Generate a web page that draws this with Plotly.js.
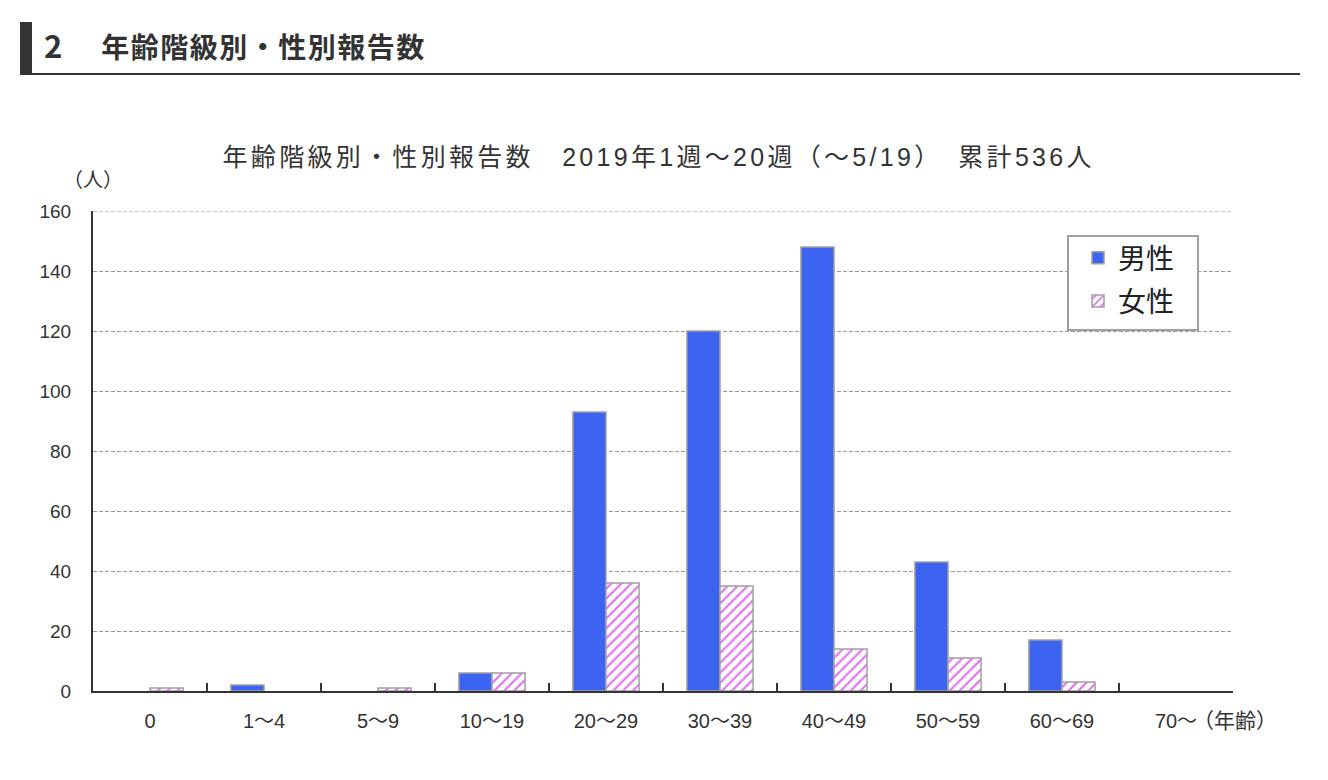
<!DOCTYPE html>
<html>
<head>
<meta charset="utf-8">
<script src="https://cdn.plot.ly/plotly-3.0.1.min.js"></script>
<style>
  html, body { margin: 0; padding: 0; background: #fff; }
  #wrap { position: relative; width: 1328px; height: 780px; overflow: hidden; }
  #chart { position: absolute; left: 0; top: 0; width: 1328px; height: 780px; }
  #hbar { position: absolute; left: 20px; top: 22px; width: 12px; height: 53px; background: #333; }
  #hline { position: absolute; left: 20px; top: 73px; width: 1280px; height: 2px; background: #333; }
  #htext { position: absolute; left: 44px; top: 27px; font-family: "Noto Sans CJK JP", "Liberation Sans", sans-serif; font-weight: bold; font-size: 28px; letter-spacing: 1.5px; color: #333; line-height: 36px; white-space: pre; }
  #htext .num { font-size: 31px; }
  .gtitle { letter-spacing: 3.3px; }
</style>
</head>
<body>
<div id="wrap">
  <div id="chart"></div>
  <div id="hbar"></div>
  <div id="hline"></div>
  <div id="htext"><span class="num">2</span>　 年齢階級別・性別報告数</div>
</div>
<script>
const categories = ["0", "1～4", "5～9", "10～19", "20～29", "30～39", "40～49", "50～59", "60～69", "70～"];
const male = [0, 2, 0, 6, 93, 120, 148, 43, 17, 0];
const female = [1, 0, 1, 6, 36, 35, 14, 11, 3, 0];
const seriesNames = ["男性", "女性"];
const yTicks = [0, 20, 40, 60, 80, 100, 120, 140, 160];
const chartTitle = "年齢階級別・性別報告数　2019年1週～20週（～5/19）　累計536人";

const FONT = '"Liberation Sans", "Noto Sans CJK JP", Arial, sans-serif';
// zero counts draw no bar (no outline) as in the original
const hideZero = arr => arr.map(v => (v === 0 ? null : v));

const traces = [
  {
    type: "bar", name: seriesNames[0], x: categories, y: hideZero(male),
    legendgroup: "m",
    marker: { color: "#3c64f0", line: { color: "#a0a0a0", width: 1.5 } },
    hoverinfo: "x+y+name"
  },
  {
    type: "bar", name: seriesNames[1], x: categories, y: hideZero(female),
    legendgroup: "f",
    marker: {
      color: "#ffffff",
      line: { color: "#a0a0a0", width: 1.5 },
      pattern: { shape: "/", fgcolor: "#e070f0", bgcolor: "#ffffff", size: 7, solidity: 0.3 }
    },
    hoverinfo: "x+y+name"
  }
];

const yMax = yTicks[yTicks.length - 1];

const layout = {
  width: 1328, height: 780,
  margin: { l: 93, r: 95, t: 211, b: 89 },
  paper_bgcolor: "#ffffff", plot_bgcolor: "#ffffff",
  font: { family: FONT, size: 19, color: "#333" },
  barmode: "group", bargap: 0.42, bargroupgap: 0,
  showlegend: true,
  title: {
    text: chartTitle,
    font: { family: FONT, size: 25, color: "#333" },
    x: 0.496, xref: "container", xanchor: "center",
    y: 1 - 157 / 780, yref: "container", yanchor: "middle"
  },
  xaxis: {
    type: "category",
    showline: true, linecolor: "#333", linewidth: 2,
    ticks: "inside", tickson: "boundaries", ticklen: 8, tickwidth: 2, tickcolor: "#333",
    ticklabelstandoff: 11,
    showgrid: false, zeroline: false,
    tickfont: { family: FONT, size: 20, color: "#333" },
    fixedrange: true
  },
  yaxis: {
    range: [0, yMax], tickvals: yTicks, ticktext: yTicks.map(String),
    showline: true, linecolor: "#333", linewidth: 2,
    ticks: "", ticklabelstandoff: 16,
    showgrid: true, gridcolor: "#9a9a9a", gridwidth: 1, griddash: "4px,2px",
    zeroline: false,
    tickfont: { family: FONT, size: 19, color: "#333" },
    fixedrange: true
  },
  legend: {
    x: (1068 - 93) / 1140, xanchor: "left",
    y: (691 - 233) / 480, yanchor: "top",
    bgcolor: "rgba(0,0,0,0)", borderwidth: 0,
    font: { family: '"Noto Sans CJK JP", sans-serif', size: 28, color: "#222" },
    tracegroupgap: 4, itemwidth: 30, indentation: 10
  },
  shapes: [
    // top gridline at the maximum tick
    { type: "line", xref: "paper", yref: "y", x0: 0, x1: 1, y0: yMax, y1: yMax, layer: "below",
      line: { color: "#9a9a9a", width: 1, dash: "4px,2px" } },
    // legend frame
    { type: "rect", xref: "paper", yref: "paper",
      x0: (1068 - 93) / 1140, x1: (1198 - 93) / 1140, y0: (691 - 330) / 480, y1: (691 - 236) / 480,
      layer: "above", fillcolor: "#ffffff", line: { color: "#a0a0a0", width: 2 } }
  ],
  annotations: [
    { text: "（人）", xref: "paper", yref: "paper", x: -0.028, y: 1 + (211 - 180) / 480, xanchor: "left", yanchor: "middle", showarrow: false, font: { family: FONT, size: 20, color: "#333" } },
    { text: "（年齢）", xref: "paper", yref: "paper", x: (1191 - 93) / 1140, y: -(720 - 691) / 480, xanchor: "left", yanchor: "middle", showarrow: false, font: { family: FONT, size: 21, color: "#333" } }
  ]
};

Plotly.newPlot("chart", traces, layout, { displayModeBar: false, staticPlot: true });
</script>
</body>
</html>
